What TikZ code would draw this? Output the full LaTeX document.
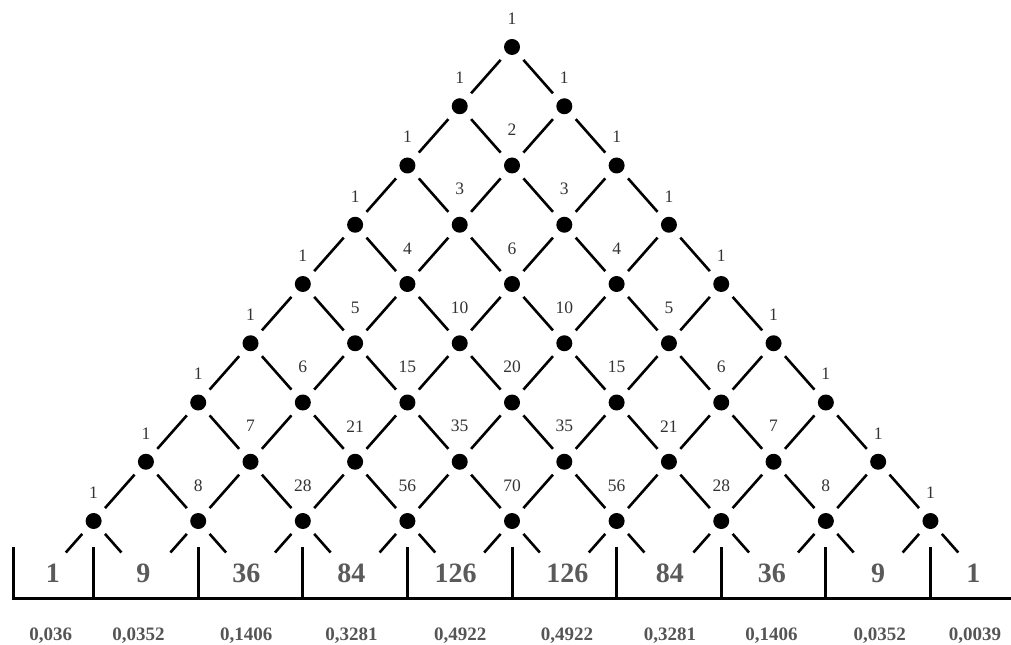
\documentclass[tikz,border=0pt]{standalone}
\usepackage{fontspec}
\setmainfont{Liberation Serif}
\usetikzlibrary{calc}
\definecolor{bingray}{HTML}{5A5A5A}
\definecolor{probgray}{HTML}{555555}
\tikzset{peg/.style={circle, fill=black, inner sep=0pt, minimum size=16pt},
  wire/.style={line width=2.6pt, shorten <=9pt, shorten >=9pt},
  wall/.style={line width=3pt},
  pnum/.style={font=\fontsize{17.5}{17.5}\selectfont, text=black!80, inner sep=0pt},
  bin/.style={font=\fontsize{28}{28}\selectfont\bfseries, text=bingray, inner sep=0pt},
  prob/.style={font=\fontsize{19}{19}\selectfont\bfseries, text=probgray, inner sep=0pt}}

\begin{document}
\begin{tikzpicture}[x=52.3pt, y=-59.25pt]
  \useasboundingbox (-9.79,-0.793) rectangle (9.54,10.076);
  % pegs with their path counts
  \foreach \r/\row in {0/{1}, 1/{1,1}, 2/{1,2,1}, 3/{1,3,3,1}, 4/{1,4,6,4,1},
      5/{1,5,10,10,5,1}, 6/{1,6,15,20,15,6,1}, 7/{1,7,21,35,35,21,7,1},
      8/{1,8,28,56,70,56,28,8,1}} {
    \foreach \c [count=\k from 0] in \row {
      \pgfmathsetmacro\dy{(\k==0 || \k==\r) ? 0.48 : 0.6}
      \node[peg] (p-\r-\k) at ({2*\k-\r},\r) {};
      \node[pnum] (n-\r-\k) at ($(p-\r-\k)+(0,-\dy)$) {\c};
    }
  }
  % paths between rows
  \foreach \r in {0,...,7} {
    \pgfmathtruncatemacro\nr{\r+1}
    \foreach \k in {0,...,\r} {
      \pgfmathtruncatemacro\kk{\k+1}
      \draw[wire] (p-\r-\k) -- (p-\nr-\k);
      \draw[wire] (p-\r-\k) -- (p-\nr-\kk);
    }
  }
  % exits into the bins
  \foreach \k in {0,...,9} \coordinate (e-\k) at ({2*\k-9},9);
  \foreach \k in {0,...,8} {
    \pgfmathtruncatemacro\kk{\k+1}
    \draw[wire, shorten >=37pt] (p-8-\k) -- (e-\k);
    \draw[wire, shorten >=37pt] (p-8-\k) -- (e-\kk);
  }
  % bins
  \coordinate (wl) at (-9.54,8.44);
  \coordinate (bl) at (-9.54,9.30);
  \coordinate (br) at (9.54,9.30);
  \draw[wall] (wl) -- (bl) -- (br);
  \foreach \k in {0,...,8} \draw[wall] (p-8-\k |- wl) -- (p-8-\k |- bl);
  \foreach \x/\v [count=\i] in {-8.78/1, -7.05/9, -5.08/36, -3.07/84, -1.08/126,
      1.06/126, 3.02/84, 4.97/36, 7/9, 8.82/1}
    \node[bin] (b-\i) at (\x,8.89) {\v};
  \foreach \x/\v [count=\i] in {-8.82/{0,036}, -7.14/{0,0352}, -5.08/{0,1406},
      -3.07/{0,3281}, -0.99/{0,4922}, 1.05/{0,4922}, 3.02/{0,3281}, 4.96/{0,1406},
      7.03/{0,0352}, 8.85/{0,0039}}
    \node[prob] (q-\i) at (\x,9.93) {\v};
\end{tikzpicture}
\end{document}
